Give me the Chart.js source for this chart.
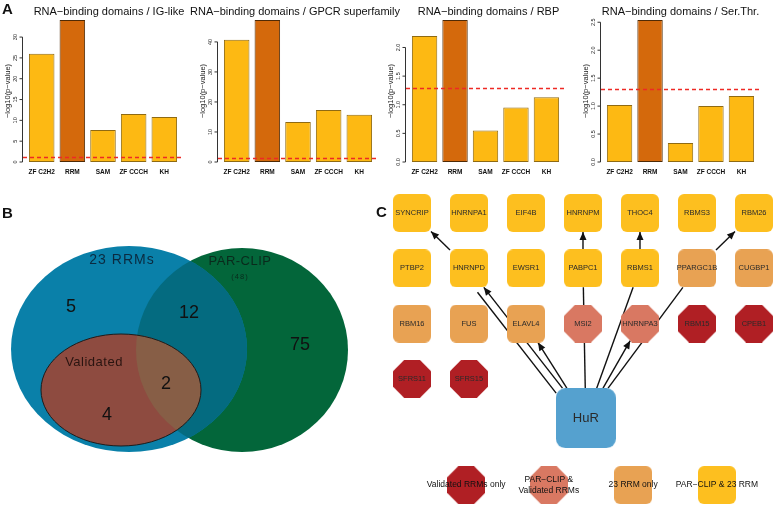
<!DOCTYPE html>
<html>
<head>
<meta charset="utf-8">
<title>RNA-binding domains / HuR network</title>
<script src="https://cdn.jsdelivr.net/npm/chart.js@4.4.1/dist/chart.umd.min.js"></script>
<style>
  html, body { margin: 0; padding: 0; background: #ffffff; }
  #fig { position: relative; width: 781px; height: 507px; overflow: hidden; }
  #fig canvas { position: absolute; }
  .tag { position: absolute; font: bold 15px "Liberation Sans", Arial, sans-serif; line-height: 1; color: #111; }
</style>
</head>
<body>
<div id="fig">
  <canvas id="igChart" width="200" height="180" style="left:0;top:0"></canvas>
  <canvas id="gpcrChart" width="210" height="180" style="left:190px;top:0"></canvas>
  <canvas id="rbpChart" width="200" height="180" style="left:380px;top:0"></canvas>
  <canvas id="serChart" width="209" height="180" style="left:572px;top:0"></canvas>
  <canvas id="vennChart" width="380" height="327" style="left:0;top:180px"></canvas>
  <canvas id="netChart" width="391" height="327" style="left:390px;top:180px"></canvas>
  <div class="tag" style="left:2px;top:1px">A</div>
  <div class="tag" style="left:2px;top:205px">B</div>
  <div class="tag" style="left:376px;top:204px">C</div>
</div>
<script>
const FONT = '"Liberation Sans", Arial, sans-serif';

// ---- Panel A: domain enrichment, -log10(p-value)
const domains = ["ZF C2H2", "RRM", "SAM", "ZF CCCH", "KH"];
const igLikeScores = [26.0, 34.1, 7.7, 11.5, 10.8];
const gpcrScores = [40.7, 47.3, 13.3, 17.3, 15.7];
const rbpScores = [2.20, 2.48, 0.55, 0.95, 1.13];
const serThrScores = [1.02, 2.54, 0.34, 1.00, 1.18];
const cutoff = -Math.log10(0.05); // p = 0.05

// ---- Panel B: overlap of the three protein sets
const vennSetNames = ["23 RRMs", "PAR-CLIP", "Validated"];
const parClipTotal = 48;
// 23 RRMs only, RRMs & PAR-CLIP, PAR-CLIP only, Validated & PAR-CLIP, Validated only
const regionCounts = [5, 12, 75, 2, 4];

// ---- Panel C: HuR network
const hub = "HuR";
const nodeNames = [
  "SYNCRIP", "HNRNPA1", "EIF4B", "HNRNPM", "THOC4", "RBMS3", "RBM26",
  "PTBP2", "HNRNPD", "EWSR1", "PABPC1", "RBMS1", "PPARGC1B", "CUGBP1",
  "RBM16", "FUS", "ELAVL4", "MSI2", "HNRNPA3", "RBM15", "CPEB1",
  "SFRS11", "SFRS15"
];
const nodeGroups = [
  "both", "both", "both", "both", "both", "both", "both",
  "both", "both", "both", "both", "both", "rrm", "rrm",
  "rrm", "rrm", "rrm", "parVal", "parVal", "val", "val",
  "val", "val"
];
const groupKeys = ["val", "parVal", "rrm", "both"];
const groupNames = ["Validated RRMs only", "PAR\u2212CLIP &\nValidated RRMs", "23 RRM only", "PAR\u2212CLIP & 23 RRM"];
// [from, to, directed]
const edges = [
  ["HNRNPD", "SYNCRIP", true],
  ["PABPC1", "HNRNPM", true],
  ["RBMS1", "THOC4", true],
  ["PPARGC1B", "RBM26", true],
  ["HuR", "HNRNPD", true],
  ["HNRNPD", "HuR", false],
  ["HuR", "ELAVL4", true],
  ["PABPC1", "HuR", false],
  ["RBMS1", "HuR", false],
  ["HuR", "HNRNPA3", true],
  ["PPARGC1B", "HuR", false]
];

// ================= Panel A =================
const barFill = "#fdb913", rrmFill = "#d4690c";
const barEdge = "#8f6a12", rrmEdge = "#4f2a05";

const rAxis = {
  id: "rAxis",
  afterDatasetsDraw(chart, args, opts) {
    const { ctx, chartArea: a, scales: { y } } = chart;
    ctx.save();
    // significance cutoff
    const yc = Math.round(y.getPixelForValue(cutoff)) + 0.5;
    ctx.strokeStyle = "#ee2a24";
    ctx.lineWidth = 1.5;
    ctx.setLineDash([4, 3]);
    ctx.beginPath(); ctx.moveTo(a.left, yc); ctx.lineTo(a.right, yc); ctx.stroke();
    ctx.setLineDash([]);

    // R style y axis: line only over the tick range
    const ticks = y.ticks;
    const ax = Math.round(a.left) - 0.5;
    const y0 = y.getPixelForValue(ticks[0].value);
    const y1 = y.getPixelForValue(ticks[ticks.length - 1].value);
    ctx.strokeStyle = "#333";
    ctx.lineWidth = 1;
    ctx.beginPath();
    ctx.moveTo(ax, y0); ctx.lineTo(ax, y1);
    ticks.forEach(t => {
      const py = y.getPixelForValue(t.value);
      ctx.moveTo(ax, py); ctx.lineTo(ax - 3, py);
    });
    ctx.stroke();

    ctx.fillStyle = "#222";
    ctx.textAlign = "center";
    ctx.textBaseline = "middle";
    ctx.font = `5.5px ${FONT}`;
    ticks.forEach(t => {
      ctx.save();
      ctx.translate(ax - 7, y.getPixelForValue(t.value));
      ctx.rotate(-Math.PI / 2);
      ctx.fillText(t.label, 0, 0);
      ctx.restore();
    });
    ctx.font = `7.5px ${FONT}`;
    ctx.save();
    ctx.translate(ax - 15, (a.top + a.bottom) / 2);
    ctx.rotate(-Math.PI / 2);
    ctx.fillText("\u2212log10(p\u2212value)", 0, 0);
    ctx.restore();

    // domain names under the bars
    ctx.font = `bold 6.5px ${FONT}`;
    ctx.fillStyle = "#111";
    chart.getDatasetMeta(0).data.forEach((bar, i) => ctx.fillText(domains[i], bar.x, a.bottom + 10));

    // main title, not squeezed to the plot width
    ctx.font = `11px ${FONT}`;
    ctx.fillStyle = "#111";
    ctx.fillText(opts.text, (a.left + a.right) / 2 + opts.shift, 12);
    ctx.restore();
  }
};

function barPanel(id, title, shift, scores, step, digits, pad) {
  return new Chart(document.getElementById(id), {
    type: "bar",
    data: {
      datasets: [{
        // barplot spacing: width 1, space 0.2
        data: scores.map((v, i) => ({ x: 0.7 + 1.2 * i, y: v })),
        backgroundColor: domains.map(d => d === "RRM" ? rrmFill : barFill),
        borderColor: domains.map(d => d === "RRM" ? rrmEdge : barEdge),
        borderWidth: 1,
        borderSkipped: false,
        categoryPercentage: 1,
        barPercentage: 1 / 1.2
      }]
    },
    options: {
      responsive: false,
      animation: false,
      events: [],
      layout: { padding: pad, autoPadding: false },
      plugins: {
        legend: { display: false },
        tooltip: { enabled: false },
        title: { display: false },
        rAxis: { text: title, shift }
      },
      scales: {
        x: { type: "linear", display: false, offset: false, grid: { offset: false }, min: -0.032, max: 6.232 },
        y: {
          display: false,
          min: 0,
          max: Math.max(...scores),
          ticks: { stepSize: step, includeBounds: false, callback: v => v.toFixed(digits) }
        }
      }
    },
    plugins: [rAxis]
  });
}

barPanel("igChart", "RNA\u2212binding domains / IG-like", 6, igLikeScores, 5, 0, { left: 23, right: 17, top: 20, bottom: 18 });
barPanel("gpcrChart", "RNA\u2212binding domains / GPCR superfamily", -3, gpcrScores, 10, 0, { left: 28, right: 22, top: 20, bottom: 18 });
barPanel("rbpChart", "RNA\u2212binding domains / RBP", 3, rbpScores, 0.5, 1, { left: 26, right: 15, top: 20, bottom: 18 });
barPanel("serChart", "RNA\u2212binding domains / Ser.Thr.", 0, serThrScores, 0.5, 1, { left: 29, right: 21, top: 20, bottom: 18 });

// ================= Panel B =================
// ellipse geometry in panel units (origin top-left of the panel)
const vennShapes = [
  { cx: 129, cy: 169, rx: 118, ry: 103 },  // 23 RRMs
  { cx: 242, cy: 170, rx: 106, ry: 102 },  // PAR-CLIP
  { cx: 121, cy: 210, rx: 80, ry: 56 }     // Validated
];
const regionSpots = [[71, 127], [189, 133], [300, 165], [166, 204], [107, 235]];
const setLabelSpots = [[122, 80], [240, 81], [94, 182]];

const vennDraw = {
  id: "vennDraw",
  beforeDatasetsDraw(chart) {
    const { ctx, scales: { x, y } } = chart;
    const path = s => {
      const cx = x.getPixelForValue(s.cx), cy = y.getPixelForValue(s.cy);
      const rx = Math.abs(x.getPixelForValue(s.cx + s.rx) - cx);
      const ry = Math.abs(y.getPixelForValue(s.cy + s.ry) - cy);
      const p = new Path2D();
      p.ellipse(cx, cy, rx, ry, 0, 0, Math.PI * 2);
      return p;
    };
    const [rrm, par, val] = vennShapes.map(path);
    ctx.save();
    ctx.fillStyle = "#03663a"; ctx.fill(par);
    ctx.fillStyle = "#0a80a9"; ctx.fill(rrm);
    ctx.save(); ctx.clip(par); ctx.fillStyle = "#046b80"; ctx.fill(rrm); ctx.restore();
    ctx.fillStyle = "#8e4b40"; ctx.fill(val);
    ctx.save(); ctx.clip(par); ctx.fillStyle = "#875e46"; ctx.fill(val); ctx.restore();
    ctx.strokeStyle = "#1c1c1c"; ctx.lineWidth = 1; ctx.stroke(val);
    ctx.restore();
  },
  afterDatasetsDraw(chart) {
    const { ctx, scales: { x, y } } = chart;
    ctx.save();
    ctx.textAlign = "center";
    ctx.textBaseline = "middle";
    // set names
    const setColors = ["#0b2a40", "#0a2a1c", "#2a1410"];
    const setFonts = [`14px ${FONT}`, `13px ${FONT}`, `13px ${FONT}`];
    vennSetNames.forEach((n, i) => {
      const [sx, sy] = setLabelSpots[i];
      ctx.font = setFonts[i];
      ctx.fillStyle = setColors[i];
      ctx.letterSpacing = i === 0 ? "1px" : "0.5px";
      ctx.fillText(n, x.getPixelForValue(sx), y.getPixelForValue(sy));
    });
    ctx.font = `7.5px ${FONT}`;
    ctx.letterSpacing = "1px";
    ctx.fillStyle = "#0a2a1c";
    ctx.fillText(`(${parClipTotal})`, x.getPixelForValue(setLabelSpots[1][0]), y.getPixelForValue(setLabelSpots[1][1] + 16));
    ctx.letterSpacing = "0px";
    // region counts
    ctx.font = `18px ${FONT}`;
    ctx.fillStyle = "#111";
    chart.getDatasetMeta(0).data.forEach((pt, i) => ctx.fillText(String(regionCounts[i]), pt.x, pt.y));
    ctx.restore();
  }
};

new Chart(document.getElementById("vennChart"), {
  type: "scatter",
  data: {
    datasets: [{
      data: regionSpots.map(([sx, sy]) => ({ x: sx, y: sy })),
      pointRadius: 0
    }]
  },
  options: {
    responsive: false,
    animation: false,
    events: [],
    layout: { padding: 0, autoPadding: false },
    plugins: { legend: { display: false }, tooltip: { enabled: false } },
    scales: {
      x: { type: "linear", display: false, min: 0, max: 380 },
      y: { type: "linear", display: false, min: 0, max: 327, reverse: true }
    }
  },
  plugins: [vennDraw]
});

// ================= Panel C =================
const groupStyle = {
  val: { shape: "oct", fill: "#b01f24" },
  parVal: { shape: "oct", fill: "#d97862" },
  rrm: { shape: "box", fill: "#e8a253" },
  both: { shape: "box", fill: "#fdbf1f" }
};
const hubFill = "#55a1cf";
const nodeSize = 38, hubSize = 60;
const gridCols = 7;
const hubSpot = { x: 3.05, y: 3.71 };
const legendCols = [0.95, 2.4, 3.88, 5.35];
const legendRow = 4.92;

function sprite(shape, fill, size) {
  const c = document.createElement("canvas");
  c.width = c.height = size;
  const g = c.getContext("2d");
  g.fillStyle = fill;
  g.beginPath();
  if (shape === "oct") {
    const r = size / 2, R = r / Math.cos(Math.PI / 8);
    for (let k = 0; k < 8; k++) {
      const t = Math.PI / 8 + k * Math.PI / 4;
      g.lineTo(r + R * Math.cos(t), r + R * Math.sin(t));
    }
  } else {
    const k = size * 0.16;
    g.moveTo(k, 0);
    g.arcTo(size, 0, size, size, k);
    g.arcTo(size, size, 0, size, k);
    g.arcTo(0, size, 0, 0, k);
    g.arcTo(0, 0, size, 0, k);
  }
  g.closePath();
  g.fill();
  return c;
}

const sprites = {};
groupKeys.forEach(k => { sprites[k] = sprite(groupStyle[k].shape, groupStyle[k].fill, nodeSize); });
const hubSprite = sprite("box", hubFill, hubSize);

function spotOf(name) {
  if (name === hub) return hubSpot;
  const i = nodeNames.indexOf(name);
  return { x: i % gridCols, y: Math.floor(i / gridCols) };
}
function isOct(name) {
  return name !== hub && groupStyle[nodeGroups[nodeNames.indexOf(name)]].shape === "oct";
}

const netEdges = {
  id: "netEdges",
  beforeDatasetsDraw(chart) {
    const { ctx, scales: { x, y } } = chart;
    const node = name => {
      const s = spotOf(name);
      return { x: x.getPixelForValue(s.x), y: y.getPixelForValue(s.y), r: (name === hub ? hubSize : nodeSize) / 2, oct: isOct(name) };
    };
    const reach = (n, ux, uy) => {
      const ax = Math.abs(ux), ay = Math.abs(uy);
      const m = n.oct ? Math.max(ax, ay, (ax + ay) / Math.SQRT2) : Math.max(ax, ay);
      return n.r / m;
    };
    const seen = {};
    ctx.save();
    ctx.strokeStyle = "#111";
    ctx.fillStyle = "#111";
    ctx.lineWidth = 1.4;
    edges.forEach(([from, to, directed]) => {
      const a = node(from), b = node(to);
      const key = [from, to].sort().join("|");
      const dup = seen[key] || 0;
      seen[key] = dup + 1;
      const len = Math.hypot(b.x - a.x, b.y - a.y);
      const ux = (b.x - a.x) / len, uy = (b.y - a.y) / len;
      const off = dup * 8;
      const nx = -uy * off, ny = ux * off;
      const sa = reach(a, ux, uy), sb = reach(b, ux, uy);
      const x1 = a.x + ux * sa + nx, y1 = a.y + uy * sa + ny;
      const x2 = b.x - ux * sb + nx, y2 = b.y - uy * sb + ny;
      ctx.beginPath(); ctx.moveTo(x1, y1); ctx.lineTo(x2, y2); ctx.stroke();
      if (directed) {
        const L = 8, W = 3.5;
        ctx.beginPath();
        ctx.moveTo(x2, y2);
        ctx.lineTo(x2 - ux * L - uy * W, y2 - uy * L + ux * W);
        ctx.lineTo(x2 - ux * L + uy * W, y2 - uy * L - ux * W);
        ctx.closePath();
        ctx.fill();
      }
    });
    ctx.restore();
  },
  afterDatasetsDraw(chart) {
    const { ctx, scales: { x, y } } = chart;
    ctx.save();
    ctx.textAlign = "center";
    ctx.textBaseline = "middle";
    ctx.fillStyle = "#2a2a2a";
    chart.data.datasets.forEach((ds, di) => {
      const meta = chart.getDatasetMeta(di);
      ctx.font = ds.isHub ? `13px ${FONT}` : `7.5px ${FONT}`;
      meta.data.forEach((pt, i) => ctx.fillText(ds.data[i].name, pt.x, pt.y));
    });
    // legend
    const ly = y.getPixelForValue(legendRow);
    ctx.font = `8.5px ${FONT}`;
    ctx.fillStyle = "#111";
    groupKeys.forEach((k, i) => {
      const lx = x.getPixelForValue(legendCols[i]);
      ctx.drawImage(sprites[k], lx - nodeSize / 2, ly - nodeSize / 2);
      const lines = groupNames[i].split("\n");
      lines.forEach((t, j) => ctx.fillText(t, lx, ly + (j - (lines.length - 1) / 2) * 11));
    });
    ctx.restore();
  }
};

const netDatasets = groupKeys.map(k => ({
  data: nodeNames.map((n, i) => ({ n, i })).filter(o => nodeGroups[o.i] === k)
    .map(o => ({ ...spotOf(o.n), name: o.n })),
  pointStyle: sprites[k],
  pointRadius: nodeSize / 2,
  showLine: false,
  clip: false
}));
netDatasets.push({
  isHub: true,
  data: [{ ...hubSpot, name: hub }],
  pointStyle: hubSprite,
  pointRadius: hubSize / 2,
  showLine: false,
  clip: false
});

new Chart(document.getElementById("netChart"), {
  type: "scatter",
  data: { datasets: netDatasets },
  options: {
    responsive: false,
    animation: false,
    events: [],
    layout: { padding: 0, autoPadding: false },
    plugins: { legend: { display: false }, tooltip: { enabled: false } },
    scales: {
      x: { type: "linear", display: false, min: -0.386, max: 6.474 },
      y: { type: "linear", display: false, min: -0.597, max: 5.316, reverse: true }
    }
  },
  plugins: [netEdges]
});
</script>
</body>
</html>
